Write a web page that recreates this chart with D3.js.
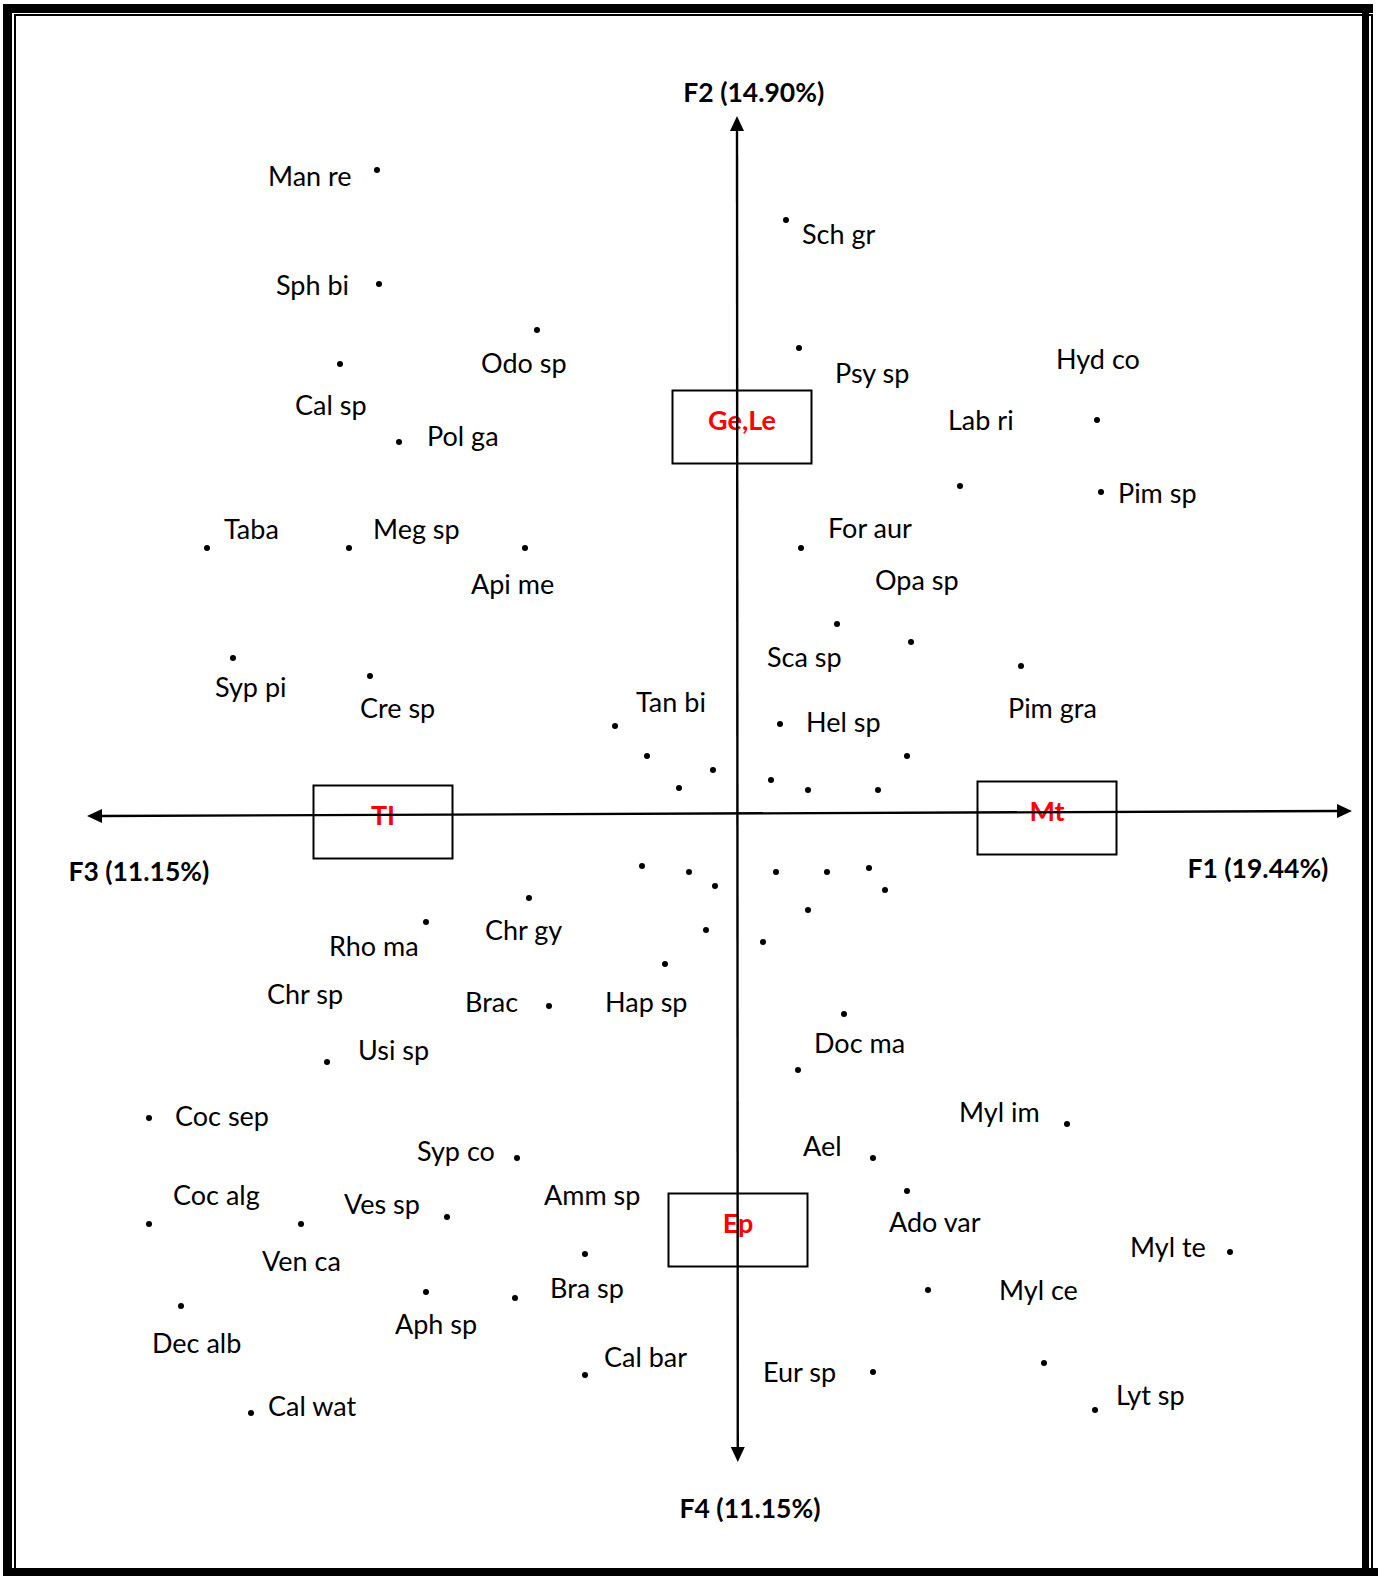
<!DOCTYPE html>
<html>
<head>
<meta charset="utf-8">
<script src="https://cdn.jsdelivr.net/npm/d3@7"></script>
<style>
  html, body { margin: 0; padding: 0; background: #fff; }
  svg { display: block; }
</style>
</head>
<body>
<svg id="chart" width="1378" height="1576"></svg>
<script>
// Species scores on the factorial plane (F1 horizontal, F2 vertical)
const speciesScores = [
  [-1.80, 3.21], [-1.79, 2.64], [-1.00, 2.41], [-1.985, 2.24], [-1.69, 1.85],
  [-2.65, 1.32], [-1.94, 1.32], [-1.06, 1.32], [-2.52, 0.77], [-1.835, 0.68],
  [-0.61, 0.43], [-0.45, 0.28], [-0.12, 0.21], [-0.29, 0.12],
  [0.245, 2.96], [0.31, 2.32], [1.80, 1.96], [1.115, 1.63], [1.82, 1.60],
  [0.32, 1.32], [0.50, 0.94], [0.87, 0.85], [1.42, 0.73], [0.215, 0.44],
  [0.85, 0.28], [0.17, 0.16], [0.355, 0.11], [0.705, 0.11],
  [-0.475, -0.27], [-0.24, -0.30], [-0.11, -0.37], [-0.155, -0.59],
  [0.195, -0.30], [0.45, -0.30], [0.66, -0.28], [0.74, -0.39], [0.355, -0.49], [0.13, -0.65],
  [-1.04, -0.43], [-1.555, -0.55], [-2.05, -1.25], [-0.94, -0.97], [-0.36, -0.76],
  [0.535, -1.01], [0.305, -1.29], [1.65, -1.56], [0.68, -1.73], [0.85, -1.895],
  [2.465, -2.20], [0.955, -2.39], [0.68, -2.80], [1.535, -2.755], [1.79, -2.99],
  [-2.94, -1.53], [-2.94, -2.06], [-1.10, -1.73], [-0.76, -2.21], [-1.45, -2.025],
  [-2.18, -2.06], [-2.78, -2.47], [-1.555, -2.40], [-1.11, -2.43], [-0.76, -2.815],
  [-2.43, -3.005]
];

// Species abbreviations and where each name sits on the plane
const labelNames = [
  "Man re", "Sph bi", "Odo sp", "Cal sp", "Pol ga", "Taba", "Meg sp", "Api me",
  "Syp pi", "Cre sp", "Tan bi", "Sch gr", "Psy sp", "Hyd co", "Lab ri", "Pim sp",
  "For aur", "Opa sp", "Sca sp", "Pim gra", "Hel sp", "Chr gy", "Rho ma", "Chr sp",
  "Usi sp", "Brac", "Hap sp", "Doc ma", "Myl im", "Ael", "Ado var", "Myl te",
  "Myl ce", "Eur sp", "Lyt sp", "Coc sep", "Coc alg", "Syp co", "Amm sp", "Ves sp",
  "Ven ca", "Dec alb", "Aph sp", "Bra sp", "Cal bar", "Cal wat"
];
const labelScores = [
  [-2.345, 3.13], [-2.305, 2.585], [-1.28, 2.195], [-2.21, 1.985], [-1.55, 1.83],
  [-2.565, 1.365], [-1.82, 1.365], [-1.33, 1.09], [-2.61, 0.575], [-1.885, 0.47],
  [-0.505, 0.50], [0.325, 2.84], [0.49, 2.145], [1.595, 2.215], [1.055, 1.91],
  [1.905, 1.545], [0.455, 1.37], [0.69, 1.11], [0.15, 0.725], [1.355, 0.47],
  [0.345, 0.40], [-1.26, -0.64], [-2.04, -0.72], [-2.35, -0.96], [-1.895, -1.24],
  [-1.36, -1.00], [-0.66, -1.00], [0.385, -1.205], [1.11, -1.55], [0.33, -1.72],
  [0.76, -2.10], [1.965, -2.225], [1.31, -2.44], [0.13, -2.85], [1.895, -2.965],
  [-2.81, -1.57], [-2.82, -1.965], [-1.60, -1.745], [-0.965, -1.965], [-1.965, -2.01],
  [-2.375, -2.295], [-2.925, -2.705], [-1.71, -2.61], [-0.935, -2.43], [-0.665, -2.775],
  [-2.345, -3.02]
];

// Habitat groups and their centres
const groupNames = ["Ge,Le", "TI", "Mt", "Ep"];
const groupScores = [[0.025, 1.925], [-1.77, -0.05], [1.55, -0.03], [0.005, -2.09]];

// Axis titles
const axisTitleText = ["F2 (14.90%)", "F4 (11.15%)", "F3 (11.15%)", "F1 (19.44%)"];
const axisTitleScores = [[0.084, 3.55], [0.065, -3.53], [-3.343, -0.343], [2.957, -0.331]];
const axisTitleAnchor = ["middle", "middle", "start", "end"];

// Axis end points: [from, to] in score units
const horizontalAxis = [[-3.25, -0.02], [3.075, 0.005]];
const verticalAxis = [[0, 3.48], [0.004, -3.25]];

const svg = d3.select("#chart");

const x = d3.scaleLinear().domain([-3.25, 3.075]).range([87, 1352]);
const y = d3.scaleLinear().domain([-3.25, 3.48]).range([1462, 116]);

// Double frame around the figure
const frame = svg.append("g").attr("fill", "#000");
[
  [3, 4, 1370, 9], [3, 4, 9, 1572], [1362, 4, 7, 1565], [3, 1568, 1375, 8],
  [14, 14, 1358, 2], [14, 14, 2, 1555], [1371, 14, 2, 1562]
].forEach(r => frame.append("rect")
  .attr("x", r[0]).attr("y", r[1]).attr("width", r[2]).attr("height", r[3]));

const font = "Lato, 'Open Sans', sans-serif";

// Group boxes with their names
const boxW = 0.695 * 200, boxH = 0.365 * 200;
const groups = svg.append("g");
groupNames.forEach((g, i) => {
  const cx = x(groupScores[i][0]), cy = y(groupScores[i][1]);
  groups.append("rect")
    .attr("x", cx - boxW / 2).attr("y", cy - boxH / 2)
    .attr("width", boxW).attr("height", boxH)
    .attr("fill", "none").attr("stroke", "#000").attr("stroke-width", 2);
  groups.append("text")
    .attr("x", cx).attr("y", cy + 3)
    .attr("text-anchor", "middle")
    .attr("font-family", font).attr("font-weight", "bold")
    .attr("font-size", 27).attr("fill", "#ff0000")
    .text(g);
});

// Axes with arrowheads at both ends
function arrow(p0, p1) {
  const x0 = x(p0[0]), y0 = y(p0[1]), x1 = x(p1[0]), y1 = y(p1[1]);
  const len = Math.hypot(x1 - x0, y1 - y0);
  const ux = (x1 - x0) / len, uy = (y1 - y0) / len;
  const head = 15, half = 7;
  svg.append("line")
    .attr("x1", x0 + ux * head).attr("y1", y0 + uy * head)
    .attr("x2", x1 - ux * head).attr("y2", y1 - uy * head)
    .attr("stroke", "#000").attr("stroke-width", 2.4);
  [[x0, y0, 1], [x1, y1, -1]].forEach(([tx, ty, s]) => {
    const bx = tx + s * ux * head, by = ty + s * uy * head;
    svg.append("path")
      .attr("d", `M${tx},${ty}L${bx - uy * half},${by + ux * half}L${bx + uy * half},${by - ux * half}Z`)
      .attr("fill", "#000");
  });
}
arrow(horizontalAxis[0], horizontalAxis[1]);
arrow(verticalAxis[0], verticalAxis[1]);

// Axis titles
axisTitleText.forEach((t, i) => {
  svg.append("text")
    .attr("x", x(axisTitleScores[i][0])).attr("y", y(axisTitleScores[i][1]))
    .attr("text-anchor", axisTitleAnchor[i])
    .attr("font-family", font).attr("font-weight", "bold")
    .attr("font-size", 26.5).attr("fill", "#000")
    .text(t);
});

// Species points
svg.append("g").selectAll("circle")
  .data(speciesScores)
  .join("circle")
  .attr("cx", d => x(d[0])).attr("cy", d => y(d[1]))
  .attr("r", 3).attr("fill", "#000");

// Species names
svg.append("g").selectAll("text")
  .data(labelNames)
  .join("text")
  .attr("x", (d, i) => x(labelScores[i][0]))
  .attr("y", (d, i) => y(labelScores[i][1]))
  .attr("font-family", font).attr("font-size", 27).attr("fill", "#000")
  .text(d => d);
</script>
</body>
</html>
